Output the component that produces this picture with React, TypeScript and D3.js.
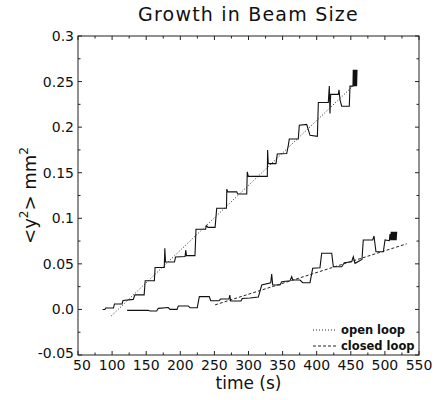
import React from 'react';
import * as d3 from 'd3';

// time (s), <y^2> (mm^2)
const openLoop: [number, number][] = [
    [86, 0], [89.5, 0], [90.5, 0.0015], [102, 0.0015], [103.5, 0.006], [114.5, 0.006],
    [116, 0.0098], [131, 0.011], [133.5, 0.016], [147, 0.016], [148.5, 0.0315], [162, 0.0315],
    [163, 0.046], [176.5, 0.046], [177.3, 0.067], [178.3, 0.052], [191.5, 0.052], [193, 0.0575],
    [207, 0.058], [208, 0.065], [209, 0.059], [221.5, 0.059], [223, 0.088], [237, 0.088],
    [238.4, 0.092], [240.6, 0.09], [251, 0.09], [253.4, 0.111], [267.7, 0.111], [268.2, 0.132],
    [269.5, 0.129], [282.7, 0.129], [284.2, 0.1266], [297.4, 0.1266], [298.2, 0.151], [299.7, 0.146],
    [327.6, 0.146], [328, 0.175], [329, 0.16], [340.3, 0.16], [342.2, 0.1705], [356, 0.171],
    [358.4, 0.18], [359.8, 0.187], [373, 0.187], [374.5, 0.202], [385.3, 0.203], [390.2, 0.191],
    [401, 0.19], [402.4, 0.227], [417, 0.227], [418.5, 0.245], [419.5, 0.215], [420.5, 0.236],
    [431.7, 0.236], [432.7, 0.241], [434.2, 0.23], [436.6, 0.223], [447.8, 0.223], [448.8, 0.245],
    [453.2, 0.245], [453.6, 0.263], [454.3, 0.245], [455, 0.263], [455.7, 0.245], [456.4, 0.263],
    [457.1, 0.245], [457.8, 0.263], [458.5, 0.245], [459.1, 0.263],
];

const closedLoop: [number, number][] = [
    [122, -0.001], [153, -0.001], [155.6, -0.0017], [165.4, -0.0017], [167.7, 0.0012], [182.4, 0.0021],
    [184.9, 0.0001], [195.2, 0.0001], [197.1, 0.0038], [211.7, 0.0038], [214.2, 0.0019], [224.9, 0.0019],
    [227.9, 0.014], [242.5, 0.014], [244.6, 0.0095], [256.8, 0.0095], [258.9, 0.0114], [271.4, 0.0114],
    [272.6, 0.0158], [273.9, 0.0092], [289, 0.0092], [290.8, 0.012], [302.2, 0.0125], [314.4, 0.0136],
    [319.4, 0.0268], [332.6, 0.0293], [334, 0.0389], [335.5, 0.0268], [346.2, 0.0268], [348.7, 0.0304],
    [360.9, 0.0315], [363.4, 0.0359], [364.8, 0.0323], [375.5, 0.0323], [379.5, 0.0293], [390.2, 0.0293],
    [394.1, 0.0451], [404.8, 0.0458], [407.3, 0.0616], [422, 0.0616], [424.4, 0.0469], [436.7, 0.0469],
    [440.5, 0.0513], [451.3, 0.0524], [453.7, 0.0578], [456.2, 0.0506], [466.4, 0.0548], [468.3, 0.0762],
    [482.1, 0.0762], [484, 0.0806], [486.9, 0.0633], [497.7, 0.0633], [500.2, 0.0762], [506.5, 0.0754],
    [507.5, 0.0828], [508.5, 0.076], [509.3, 0.0853], [510.1, 0.076], [510.9, 0.0853], [511.7, 0.076],
    [512.5, 0.0853], [513.3, 0.076], [514.1, 0.0853], [514.9, 0.076], [515.7, 0.0853], [516.5, 0.076],
    [517.3, 0.0853],
];

// linear fits
const openFit: [number, number][] = [[99, -0.007], [453, 0.245]];
const closedFit: [number, number][] = [[251, 0.005], [532, 0.072]];

const xMajor = [50, 100, 150, 200, 250, 300, 350, 400, 450, 500, 550];
const xMinor = [75, 125, 175, 225, 275, 325, 375, 425, 475, 525];
const yMajor = [-0.05, 0, 0.05, 0.1, 0.15, 0.2, 0.25, 0.3];
const yLabels = ['-0.05', '0.0', '0.05', '0.1', '0.15', '0.2', '0.25', '0.3'];
const yMinor = [-0.025, 0.025, 0.075, 0.125, 0.175, 0.225, 0.275];

const W = 436, H = 400;
const m = { left: 78, right: 419, top: 36, bottom: 355 };
const font = '"DejaVu Sans", sans-serif';

export default function App() {
    const x = d3.scaleLinear().domain([50, 550]).range([m.left, m.right]);
    const y = d3.scaleLinear().domain([-0.05, 0.3]).range([m.bottom, m.top]);
    const line = d3.line<[number, number]>().x(d => x(d[0])).y(d => y(d[1]));

    const axisColor = '#222';
    const major = 4, minor = 2.5;

    return (
        <svg width={W} height={H} style={{ position: 'absolute', left: 0, top: 0, background: '#fff' }}>
            <rect x={0} y={0} width={W} height={H} fill="#fff" />
            <text x={(m.left + m.right) / 2} y={20.5} textAnchor="middle" fontFamily={font}
                fontSize={19} letterSpacing={1.2} fill="#111">Growth in Beam Size</text>

            {/* frame */}
            <rect x={m.left} y={m.top} width={m.right - m.left} height={m.bottom - m.top}
                fill="none" stroke={axisColor} strokeWidth={1} />

            {/* ticks on all four sides */}
            {xMajor.concat(xMinor).map((t, i) => {
                const len = i < xMajor.length ? major : minor;
                return (
                    <g key={'xt' + t} stroke={axisColor} strokeWidth={1}>
                        <line x1={x(t)} x2={x(t)} y1={m.bottom} y2={m.bottom - len} />
                        <line x1={x(t)} x2={x(t)} y1={m.top} y2={m.top + len} />
                    </g>
                );
            })}
            {yMajor.concat(yMinor).map((v, i) => {
                const len = i < yMajor.length ? major : minor;
                return (
                    <g key={'yt' + v} stroke={axisColor} strokeWidth={1}>
                        <line x1={m.left} x2={m.left + len} y1={y(v)} y2={y(v)} />
                        <line x1={m.right} x2={m.right - len} y1={y(v)} y2={y(v)} />
                    </g>
                );
            })}

            {/* tick labels */}
            {xMajor.map(t => (
                <text key={'xl' + t} x={x(t) + (t === 50 ? 4 : 0)} y={370} textAnchor="middle" fontFamily={font}
                    fontSize={14} fill="#111">{t}</text>
            ))}
            {yMajor.map((v, i) => (
                <text key={'yl' + v} x={m.left - 4} y={y(v) + (v === -0.05 ? 3 : 5)} textAnchor="end" fontFamily={font}
                    fontSize={14} fill="#111">{yLabels[i]}</text>
            ))}

            {/* axis titles */}
            <text x={(m.left + m.right) / 2} y={389} textAnchor="middle" fontFamily={font}
                fontSize={17} fill="#111">time (s)</text>
            <text transform={`translate(36,${(m.top + m.bottom) / 2}) rotate(-90)`} textAnchor="middle"
                fontFamily={font} fontSize={18} fill="#111">
                &lt;y<tspan fontSize={12} dy={-8}>2</tspan><tspan dy={8}>&gt; mm</tspan>
                <tspan fontSize={12} dy={-8}>2</tspan>
            </text>

            {/* data */}
            <path d={line(openLoop) ?? ''} fill="none" stroke="#111" strokeWidth={1.1} />
            <path d={line(closedLoop) ?? ''} fill="none" stroke="#111" strokeWidth={1.1} />
            <path d={line(openFit) ?? ''} fill="none" stroke="#222" strokeWidth={1} strokeDasharray="1,2" />
            <path d={line(closedFit) ?? ''} fill="none" stroke="#222" strokeWidth={1} strokeDasharray="3,2" />

            {/* legend */}
            <g fontFamily={font} fontSize={11.5} fontWeight="bold" fill="#111">
                <line x1={313} x2={337} y1={330} y2={330} stroke="#222" strokeDasharray="1,2" />
                <text x={341} y={334}>open loop</text>
                <line x1={313} x2={337} y1={346} y2={346} stroke="#222" strokeDasharray="3,2" />
                <text x={341} y={350}>closed loop</text>
            </g>
        </svg>
    );
}
